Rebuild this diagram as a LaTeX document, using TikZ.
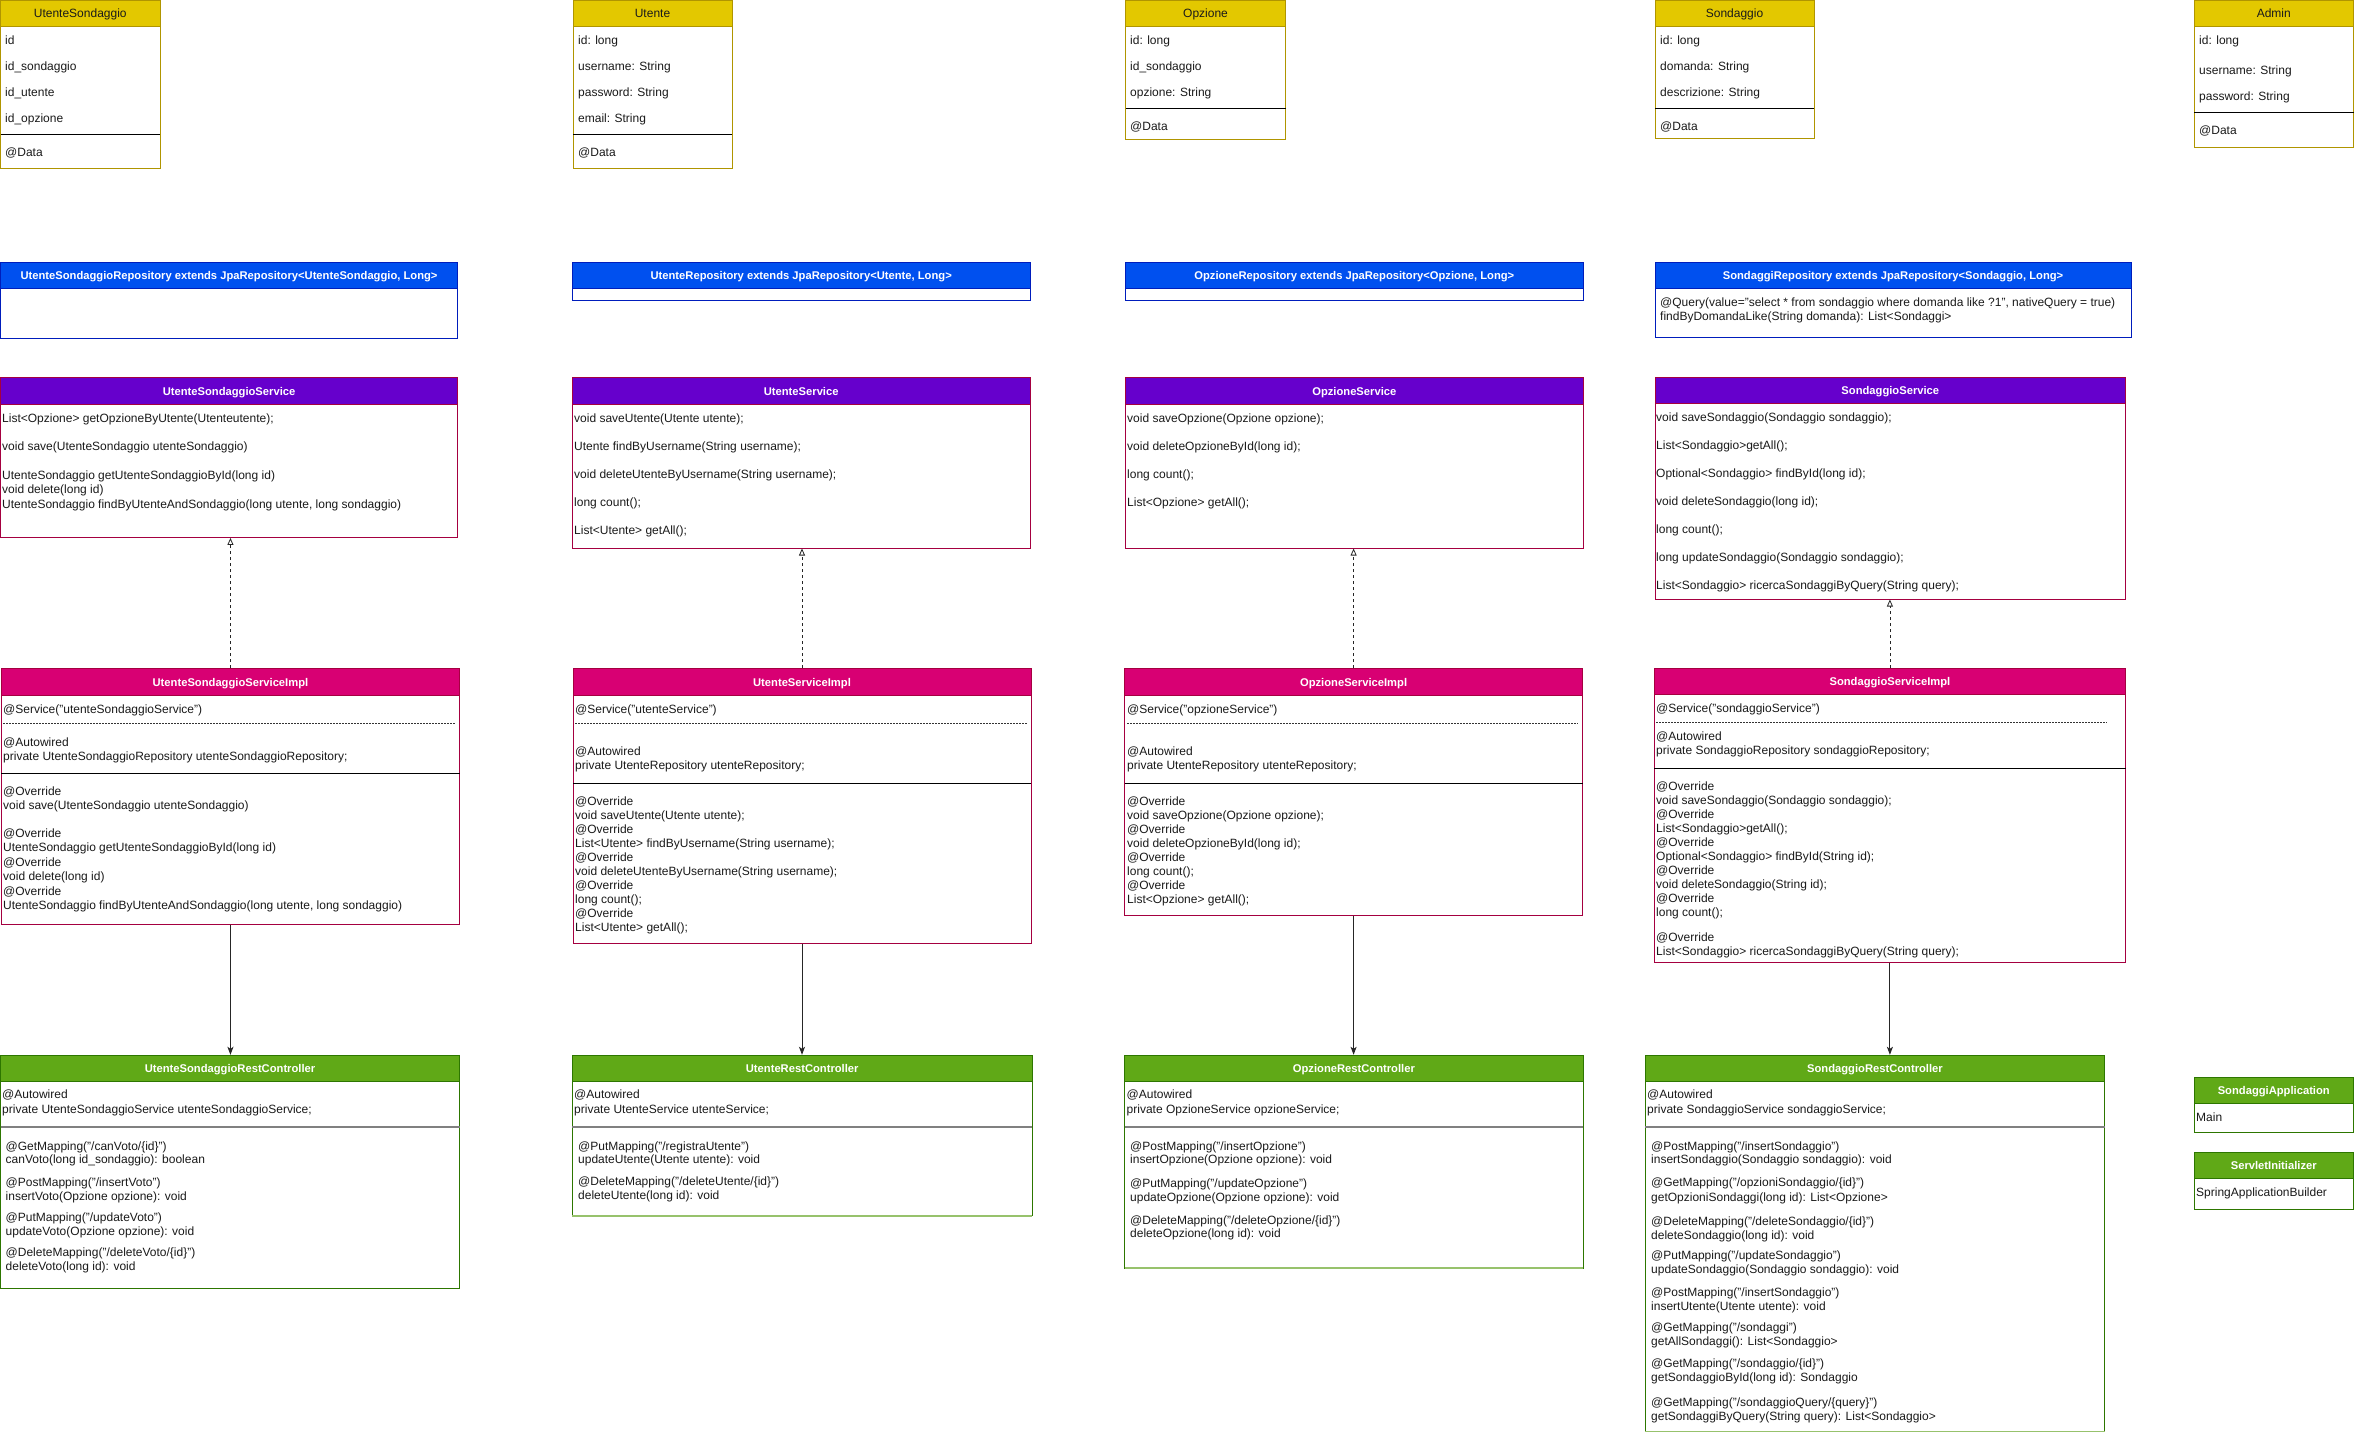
\documentclass[tikz,border=0pt]{standalone}
\usepackage{fontspec}
\setmainfont{Liberation Sans}
\usetikzlibrary{arrows.meta,calc,fit}
\definecolor{cYel}{HTML}{E3C800}
\definecolor{cYelS}{HTML}{B09500}
\definecolor{cBlu}{HTML}{0050EF}
\definecolor{cBluS}{HTML}{001DBC}
\definecolor{cVio}{HTML}{6600CC}
\definecolor{cMag}{HTML}{D80073}
\definecolor{cMagS}{HTML}{A50040}
\definecolor{cGrn}{HTML}{60A917}
\definecolor{cGrnS}{HTML}{2D7600}
\definecolor{cGrnL}{HTML}{97C26C}
\definecolor{cSep}{HTML}{808080}
\definecolor{cTxt}{HTML}{1A1A1A}
\newcounter{tlc}
% name, x1, y1, x2, y2, header bottom, kind, title
\newcommand\umlbox[8]{%
  \fill[white] (#2,#3) rectangle (#4,#5);
  \fill[#7fill] (#2,#3) rectangle (#4,#6);
  \draw[#7line] (#2,#6) -- (#4,#6);
  \draw[#7line] (#2,#3) rectangle (#4,#5);
  \node[fit={(#2,#3) (#4,#5)}, inner sep=0pt] (#1) {};
  \node[#7title] (#1-t) at ($(#2,#3)!0.5!(#4,#6)$) {#8};
}
\newcommand\tl[3]{\stepcounter{tlc}\node[txt] (tx\arabic{tlc}) at (#1,#2) {#3};}
\newcommand\hsep[4]{\draw[#4] (#1,#3) -- (#2,#3);}
\tikzset{
  txt/.style={anchor=west, inner sep=0pt, text height=8.6pt, text depth=0pt, font=\fontsize{12}{14}\selectfont, text=cTxt},
  ctitle/.style={inner sep=0pt, text height=8.6pt, text depth=0pt, font=\bfseries\fontsize{11.2}{13}\selectfont, text=white},
  yfill/.style={fill=cYel}, yline/.style={draw=cYelS, line width=1pt},
  ytitle/.style={inner sep=0pt, text height=8.6pt, text depth=0pt, font=\fontsize{12}{14}\selectfont, text=cTxt},
  bfill/.style={fill=cBlu}, bline/.style={draw=cBluS, line width=1pt}, btitle/.style={ctitle},
  vfill/.style={fill=cVio}, vline/.style={draw=cMagS, line width=1pt}, vtitle/.style={ctitle},
  mfill/.style={fill=cMag}, mline/.style={draw=cMagS, line width=1pt}, mtitle/.style={ctitle},
  gfill/.style={fill=cGrn}, gline/.style={draw=cGrnS, line width=1pt}, gtitle/.style={ctitle},
  blacksep/.style={draw=black, line width=1pt},
  graysep/.style={draw=cSep, line width=2pt},
  dashsep/.style={draw=black!80, line width=0.5pt, dash pattern=on 2pt off 1pt},
  realize/.style={draw=black!85, line width=0.8pt, dash pattern=on 3pt off 3pt, -{Triangle[open,length=7pt,width=6pt,fill=white]}},
  uses/.style={draw=black!85, line width=1pt, -{Stealth[length=8pt,width=6pt,inset=2pt]}},
}
\begin{document}
\begin{tikzpicture}[x=1pt,y=-1pt]
\fill[white] (0,0) rectangle (2354,1433);
\useasboundingbox (0,0) rectangle (2354,1433);

% ---------------- entities ----------------
\umlbox{e1}{0.5}{0.5}{160}{168}{26.5}{y}{UtenteSondaggio}
\tl{5}{40}{id}\tl{5}{66}{id\_sondaggio}\tl{5}{92}{id\_utente}\tl{5}{118}{id\_opzione}
\hsep{0.5}{160}{134}{blacksep}\tl{5}{152}{@Data}

\umlbox{e2}{573}{0.5}{732}{168}{26.5}{y}{Utente}
\tl{578}{40}{id: long}\tl{578}{66}{username: String}\tl{578}{92}{password: String}\tl{578}{118}{email: String}
\hsep{573}{732}{134}{blacksep}\tl{578}{152}{@Data}

\umlbox{e3}{1125.5}{0.5}{1285.5}{139}{26.5}{y}{Opzione}
\tl{1130}{40}{id: long}\tl{1130}{66}{id\_sondaggio}\tl{1130}{92}{opzione: String}
\hsep{1125.5}{1285.5}{108.3}{blacksep}\tl{1130}{126}{@Data}

\umlbox{e4}{1655}{0.5}{1814}{138.3}{26.5}{y}{Sondaggio}
\tl{1660}{40}{id: long}\tl{1660}{66}{domanda: String}\tl{1660}{92}{descrizione: String}
\hsep{1655}{1814}{108.3}{blacksep}\tl{1660}{126}{@Data}

\umlbox{e5}{2194}{0.5}{2353.5}{147.3}{26.5}{y}{Admin}
\tl{2199}{40}{id: long}\tl{2199}{70.3}{username: String}\tl{2199}{96.3}{password: String}
\hsep{2194}{2353.5}{112.3}{blacksep}\tl{2199}{130}{@Data}

% ---------------- repositories ----------------
\umlbox{r1}{0.5}{262.3}{457.6}{338.3}{288.3}{b}{UtenteSondaggioRepository extends JpaRepository<UtenteSondaggio, Long>}
\umlbox{r2}{572.4}{262.3}{1030}{300.3}{288.3}{b}{UtenteRepository extends JpaRepository<Utente, Long>}
\umlbox{r3}{1125.6}{262.3}{1583}{300.3}{288.3}{b}{OpzioneRepository extends JpaRepository<Opzione, Long>}
\umlbox{r4}{1655}{262.3}{2131}{337.3}{288.3}{b}{SondaggiRepository extends JpaRepository<Sondaggio, Long>}
\tl{1660}{302.3}{@Query(value="select * from sondaggio where domanda like ?1", nativeQuery = true)}
\tl{1660}{316}{findByDomandaLike(String domanda): List<Sondaggi>}

% ---------------- services ----------------
\umlbox{s1}{0.5}{377.3}{457.6}{537.7}{404.7}{v}{UtenteSondaggioService}
\tl{2}{418}{List<Opzione> getOpzioneByUtente(Utenteutente);}
\tl{2}{446}{void save(UtenteSondaggio utenteSondaggio)}
\tl{2}{475}{UtenteSondaggio getUtenteSondaggioById(long id)}
\tl{2}{489}{void delete(long id)}
\tl{2}{503.7}{UtenteSondaggio findByUtenteAndSondaggio(long utente, long sondaggio)}

\umlbox{s2}{572.4}{377.3}{1030}{548.3}{404.7}{v}{UtenteService}
\tl{574}{418}{void saveUtente(Utente utente);}
\tl{574}{446}{Utente findByUsername(String username);}
\tl{574}{474}{void deleteUtenteByUsername(String username);}
\tl{574}{502}{long count();}
\tl{574}{530}{List<Utente> getAll();}

\umlbox{s3}{1125.6}{377.3}{1583}{548.3}{404.7}{v}{OpzioneService}
\tl{1127}{418}{void saveOpzione(Opzione opzione);}
\tl{1127}{446}{void deleteOpzioneById(long id);}
\tl{1127}{474}{long count();}
\tl{1127}{502}{List<Opzione> getAll();}

\umlbox{s4}{1655}{377.3}{2125.6}{599.3}{403.7}{v}{SondaggioService}
\tl{1656}{417.3}{void saveSondaggio(Sondaggio sondaggio);}
\tl{1656}{445}{List<Sondaggio>getAll();}
\tl{1656}{473}{Optional<Sondaggio> findById(long id);}
\tl{1656}{501}{void deleteSondaggio(long id);}
\tl{1656}{529}{long count();}
\tl{1656}{557}{long updateSondaggio(Sondaggio sondaggio);}
\tl{1656}{585}{List<Sondaggio> ricercaSondaggiByQuery(String query);}

% ---------------- implementations ----------------
\umlbox{i1}{1.4}{668.3}{459.5}{924.3}{695.7}{m}{UtenteSondaggioServiceImpl}
\tl{3}{709}{@Service("utenteSondaggioService")}
\hsep{3}{455}{723}{dashsep}
\tl{3}{741.7}{@Autowired}
\tl{3}{756}{private UtenteSondaggioRepository utenteSondaggioRepository;}
\hsep{1.4}{459.5}{773.3}{blacksep}
\tl{3}{791}{@Override}
\tl{3}{805}{void save(UtenteSondaggio utenteSondaggio)}
\tl{3}{833}{@Override}
\tl{3}{847}{UtenteSondaggio getUtenteSondaggioById(long id)}
\tl{3}{862}{@Override}
\tl{3}{876}{void delete(long id)}
\tl{3}{890.7}{@Override}
\tl{3}{905}{UtenteSondaggio findByUtenteAndSondaggio(long utente, long sondaggio)}

\umlbox{i2}{573}{668.3}{1031}{943.3}{695.7}{m}{UtenteServiceImpl}
\tl{575}{709}{@Service("utenteService")}
\hsep{575}{1027}{723}{dashsep}
\tl{575}{750.7}{@Autowired}
\tl{575}{765}{private UtenteRepository utenteRepository;}
\hsep{573}{1031}{783.3}{blacksep}
\tl{575}{801}{@Override}
\tl{575}{815}{void saveUtente(Utente utente);}
\tl{575}{829}{@Override}
\tl{575}{843}{List<Utente> findByUsername(String username);}
\tl{575}{857}{@Override}
\tl{575}{871}{void deleteUtenteByUsername(String username);}
\tl{575}{885}{@Override}
\tl{575}{899}{long count();}
\tl{575}{913}{@Override}
\tl{575}{927}{List<Utente> getAll();}

\umlbox{i3}{1124.6}{668.3}{1582.6}{915.3}{695.7}{m}{OpzioneServiceImpl}
\tl{1127}{709}{@Service("opzioneService")}
\hsep{1127}{1578}{723}{dashsep}
\tl{1127}{750.7}{@Autowired}
\tl{1127}{765}{private UtenteRepository utenteRepository;}
\hsep{1124.6}{1582.6}{783.3}{blacksep}
\tl{1127}{801}{@Override}
\tl{1127}{815}{void saveOpzione(Opzione opzione);}
\tl{1127}{829}{@Override}
\tl{1127}{843}{void deleteOpzioneById(long id);}
\tl{1127}{857}{@Override}
\tl{1127}{871}{long count();}
\tl{1127}{885}{@Override}
\tl{1127}{899}{List<Opzione> getAll();}

\umlbox{i4}{1654.2}{668.3}{2125.6}{962.3}{694.7}{m}{SondaggioServiceImpl}
\tl{1656}{708}{@Service("sondaggioService")}
\hsep{1656}{2107}{722.3}{dashsep}
\tl{1656}{736}{@Autowired}
\tl{1656}{750}{private SondaggioRepository sondaggioRepository;}
\hsep{1654.2}{2125.6}{768.3}{blacksep}
\tl{1656}{786}{@Override}
\tl{1656}{800}{void saveSondaggio(Sondaggio sondaggio);}
\tl{1656}{814}{@Override}
\tl{1656}{828}{List<Sondaggio>getAll();}
\tl{1656}{842}{@Override}
\tl{1656}{856}{Optional<Sondaggio> findById(String id);}
\tl{1656}{870}{@Override}
\tl{1656}{884}{void deleteSondaggio(String id);}
\tl{1656}{898}{@Override}
\tl{1656}{912}{long count();}
\tl{1656}{936.7}{@Override}
\tl{1656}{950.7}{List<Sondaggio> ricercaSondaggiByQuery(String query);}

% ---------------- controllers ----------------
\umlbox{c1}{0.5}{1055}{459.5}{1288.3}{1081}{g}{UtenteSondaggioRestController}
\tl{2}{1094.3}{@Autowired}
\tl{2}{1109}{private UtenteSondaggioService utenteSondaggioService;}
\hsep{0.5}{459.5}{1127}{graysep}
\tl{5.5}{1146}{@GetMapping("/canVoto/\{id\}")}
\tl{5.5}{1159.3}{canVoto(long id\_sondaggio): boolean}
\tl{5.5}{1182.3}{@PostMapping("/insertVoto")}
\tl{5.5}{1196}{insertVoto(Opzione opzione): void}
\tl{5.5}{1217}{@PutMapping("/updateVoto")}
\tl{5.5}{1231}{updateVoto(Opzione opzione): void}
\tl{5.5}{1252.3}{@DeleteMapping("/deleteVoto/\{id\}")}
\tl{5.5}{1266}{deleteVoto(long id): void}

\umlbox{c2}{572.4}{1055}{1032}{1215.7}{1081}{g}{UtenteRestController}
\draw[cGrnL, line width=1.5pt] (c2.south west) -- (c2.south east);
\tl{574}{1094.3}{@Autowired}
\tl{574}{1109}{private UtenteService utenteService;}
\hsep{572.4}{1032}{1127}{graysep}
\tl{578}{1146}{@PutMapping("/registraUtente")}
\tl{578}{1159}{updateUtente(Utente utente): void}
\tl{578}{1181.3}{@DeleteMapping("/deleteUtente/\{id\}")}
\tl{578}{1195}{deleteUtente(long id): void}

\umlbox{c3}{1124.8}{1055}{1583}{1268}{1081}{g}{OpzioneRestController}
\draw[cGrnL, line width=1.5pt] (c3.south west) -- (c3.south east);
\tl{1126.5}{1094.3}{@Autowired}
\tl{1126.5}{1109}{private OpzioneService opzioneService;}
\hsep{1124.8}{1583}{1127}{graysep}
\tl{1130}{1146}{@PostMapping("/insertOpzione")}
\tl{1130}{1159}{insertOpzione(Opzione opzione): void}
\tl{1130}{1183.3}{@PutMapping("/updateOpzione")}
\tl{1130}{1197}{updateOpzione(Opzione opzione): void}
\tl{1130}{1219.7}{@DeleteMapping("/deleteOpzione/\{id\}")}
\tl{1130}{1233}{deleteOpzione(long id): void}

\umlbox{c4}{1645.4}{1055}{2104.5}{1431.5}{1081}{g}{SondaggioRestController}
\draw[cGrnL, line width=1.5pt] (c4.south west) -- (c4.south east);
\tl{1647}{1094.3}{@Autowired}
\tl{1647}{1109}{private SondaggioService sondaggioService;}
\hsep{1645.4}{2104.5}{1127}{graysep}
\tl{1651}{1146}{@PostMapping("/insertSondaggio")}
\tl{1651}{1159}{insertSondaggio(Sondaggio sondaggio): void}
\tl{1651}{1182.3}{@GetMapping("/opzioniSondaggio/\{id\}")}
\tl{1651}{1196.7}{getOpzioniSondaggi(long id): List<Opzione>}
\tl{1651}{1221.3}{@DeleteMapping("/deleteSondaggio/\{id\}")}
\tl{1651}{1235}{deleteSondaggio(long id): void}
\tl{1651}{1255}{@PutMapping("/updateSondaggio")}
\tl{1651}{1269}{updateSondaggio(Sondaggio sondaggio): void}
\tl{1651}{1292.3}{@PostMapping("/insertSondaggio")}
\tl{1651}{1306}{insertUtente(Utente utente): void}
\tl{1651}{1327}{@GetMapping("/sondaggi")}
\tl{1651}{1341}{getAllSondaggi(): List<Sondaggio>}
\tl{1651}{1363}{@GetMapping("/sondaggio/\{id\}")}
\tl{1651}{1377}{getSondaggioById(long id): Sondaggio}
\tl{1651}{1402}{@GetMapping("/sondaggioQuery/\{query\}")}
\tl{1651}{1416}{getSondaggiByQuery(String query): List<Sondaggio>}

\umlbox{a1}{2194}{1077.3}{2353.5}{1132}{1103.3}{g}{SondaggiApplication}
\tl{2196}{1117}{Main}
\umlbox{a2}{2194}{1152.3}{2353.5}{1209.3}{1178.3}{g}{ServletInitializer}
\tl{2196}{1192}{SpringApplicationBuilder}

% ---------------- connectors ----------------
\draw[realize] (i1.north) -- (i1.north |- s1.south);
\draw[realize] (i2.north) -- (i2.north |- s2.south);
\draw[realize] (i3.north) -- (i3.north |- s3.south);
\draw[realize] (i4.north) -- (i4.north |- s4.south);
\draw[uses] (i1.south) -- (i1.south |- c1.north);
\draw[uses] (i2.south) -- (i2.south |- c2.north);
\draw[uses] (i3.south) -- (i3.south |- c3.north);
\draw[uses] (i4.south) -- (i4.south |- c4.north);
\end{tikzpicture}
\end{document}
